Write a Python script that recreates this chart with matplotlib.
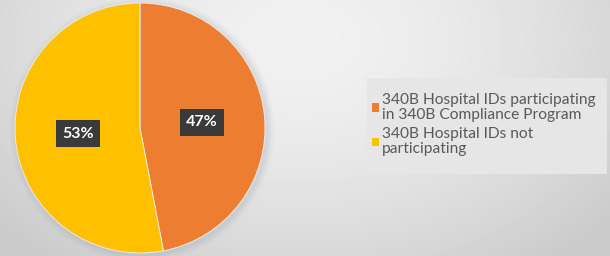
import numpy as np
import matplotlib.pyplot as plt
from matplotlib.patches import Patch, Circle, Rectangle

labels = ['340B Hospital IDs participating\nin 340B Compliance Program',
          '340B Hospital IDs not\nparticipating']
shares = [47, 53]
colors = ['#ed7d31', '#ffc000']

plt.rcParams['font.family'] = ['Lato', 'DejaVu Sans']

fig = plt.figure(figsize=(6.1, 2.56), dpi=100)

# soft radial gray background
bg = fig.add_axes([0, 0, 1, 1])
yy, xx = np.mgrid[0:256, 0:610]
d = np.sqrt(((xx - 300) / 400.0) ** 2 + ((yy - 40) / 280.0) ** 2)
shade = 0.945 - 0.15 * np.clip(d, 0, 1) ** 1.6
bg.imshow(shade, cmap='gray', vmin=0, vmax=1, aspect='auto', extent=[0, 610, 256, 0])
bg.set_xlim(0, 610)
bg.set_ylim(256, 0)
bg.set_axis_off()
# lighter legend panel
bg.add_patch(Rectangle((367, 78), 240, 96, facecolor='#e6e6e6', edgecolor='none'))

ax = fig.add_axes([15 / 610, 3 / 256, 250 / 610, 250 / 256])

wedges, _, autotexts = ax.pie(shares, colors=colors, startangle=90, counterclock=False,
                              radius=1.0, autopct=lambda p: '%d%%' % round(p), pctdistance=0.5,
                              wedgeprops=dict(linewidth=0.6, edgecolor='#f0f0f0'))
# blurry shadow behind the pie
for r, a in [(1.06, 0.04), (1.045, 0.05), (1.03, 0.07), (1.015, 0.09)]:
    ax.add_patch(Circle((0.015, -0.015), r, color='#8a9aa8', alpha=a, lw=0,
                        zorder=0, clip_on=False))
ax.set_xlim(-1.0, 1.0)
ax.set_ylim(-1.0, 1.0)
ax.set_aspect('equal')
ax.set_axis_off()

for t in autotexts:
    t.set_color('white')
    t.set_fontweight('bold')
    t.set_fontsize(11.5)
    t.set_bbox(dict(boxstyle='square,pad=0.4', facecolor='#3a3a3a', edgecolor='none'))

handles = [Patch(facecolor=c, edgecolor='none') for c in colors]
leg = fig.legend(handles, labels, loc='upper left', bbox_to_anchor=(372 / 610, 1 - 93 / 256),
                 frameon=False, fontsize=11.2, handlelength=0.45, handleheight=0.45,
                 handletextpad=0.2, labelspacing=0.35, borderpad=0, borderaxespad=0)
for t in leg.get_texts():
    t.set_color('#595959')
    t.set_linespacing(1.08)

fig.savefig('out.png', dpi=100)
